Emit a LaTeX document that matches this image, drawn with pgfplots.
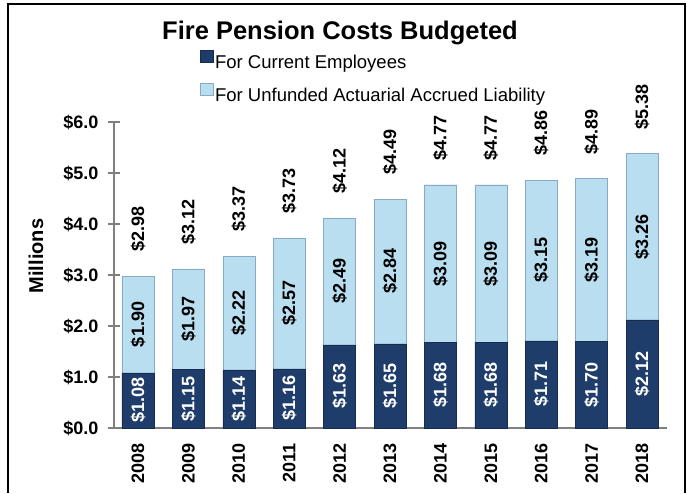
\documentclass[border=0pt]{standalone}
\usepackage{pgfplots}
\pgfplotsset{compat=1.18}
\usepackage{pgfplotstable}
\usepackage{fontspec}
\setmainfont{Liberation Sans}

\definecolor{navy}{RGB}{31,61,106}
\definecolor{navyedge}{RGB}{22,44,80}
\definecolor{sky}{RGB}{185,222,240}
\definecolor{skyedge}{RGB}{135,170,200}
\definecolor{axisgray}{RGB}{128,128,128}

% budget by year, $ millions
\pgfplotstableread{
x cur unf tot
0 1.08 1.90 2.98
1 1.15 1.97 3.12
2 1.14 2.22 3.37
3 1.16 2.57 3.73
4 1.63 2.49 4.12
5 1.65 2.84 4.49
6 1.68 3.09 4.77
7 1.68 3.09 4.77
8 1.71 3.15 4.86
9 1.70 3.19 4.89
10 2.12 3.26 5.38
}\pension

\newcommand{\lab}{\fontsize{18}{20}\selectfont\bfseries}
\newcommand{\dollars}{\$\pgfmathprintnumber[assume math mode=true,fixed,fixed zerofill,precision=2]{\pgfplotspointmeta}}

\pgfplotsset{
  frame/.style={at={(114pt,-428pt)}, anchor=south west,
    scale only axis, width=553pt, height=306pt,
    xmin=-0.476, xmax=10.496, ymin=0, ymax=6, clip=false},
}

\begin{document}
\begin{tikzpicture}[x=1pt,y=1pt]
\path[use as bounding box] (0,0) rectangle (687,-493);
\draw[line width=2.5pt] (8,-3) -- (8,-493);
\draw[line width=1.5pt] (8,-4) -- (685,-4) -- (685,-493);
\node[anchor=base, font=\fontsize{25.5}{30}\selectfont\bfseries] at (340,-39.3) {Fire Pension Costs Budgeted};
\node[rotate=90, font=\fontsize{20}{24}\selectfont\bfseries] at (36,-256) {Millions};

\begin{axis}[
  frame,
  ybar stacked, bar width=32pt,
  axis x line*=bottom, axis y line*=left,
  axis line style={draw=axisgray, line width=2pt, -},
  xtick=data,
  xticklabels={2008,2009,2010,2011,2012,2013,2014,2015,2016,2017,2018},
  ytick={0,1,2,3,4,5,6},
  yticklabels={\$0.0,\$1.0,\$2.0,\$3.0,\$4.0,\$5.0,\$6.0},
  xtick style={draw=none},
  ytick style={draw=axisgray, line width=1.5pt},
  tick align=center, major tick length=11pt,
  yticklabel style={font=\lab, inner sep=0pt, xshift=-10pt},
  xticklabel style={font=\lab, yshift=-10pt, rotate=90, anchor=east, inner sep=0pt},
  legend cell align=left,
  legend style={at={(0.1555,1.236)}, anchor=north west, draw=none, fill=none,
    inner sep=0pt, row sep=12pt, font=\fontsize{18.5}{21}\selectfont,
    nodes={inner sep=1.5pt}},
  every axis plot post/.append style={
    legend image code/.code={\fill[##1] (0pt,0pt) rectangle (13pt,12pt);}},
]
\addplot[fill=navy, draw=navyedge] table[x=x, y=cur]{\pension};
\addplot[fill=sky, draw=skyedge] table[x=x, y=unf]{\pension};
\legend{For Current Employees, For Unfunded Actuarial Accrued Liability}
\end{axis}

% value labels: centred in each segment, totals above the bars
\begin{axis}[frame, hide axis]
\addplot[draw=none, mark=none, point meta=\thisrow{cur},
  nodes near coords={\dollars},
  every node near coord/.append style={rotate=90, anchor=center, text=white, font=\lab}]
  table[x=x, y expr=\thisrow{cur}/2]{\pension};
\addplot[draw=none, mark=none, point meta=\thisrow{unf},
  nodes near coords={\dollars},
  every node near coord/.append style={rotate=90, anchor=center, text=black, font=\lab}]
  table[x=x, y expr=\thisrow{cur}+\thisrow{unf}/2]{\pension};
\addplot[draw=none, mark=none, point meta=\thisrow{tot},
  nodes near coords={\dollars},
  every node near coord/.append style={shift={(0pt,24pt)}, rotate=90, anchor=west,
    inner sep=0pt, text=black, font=\lab}]
  table[x=x, y=tot]{\pension};
\end{axis}
\end{tikzpicture}
\end{document}
